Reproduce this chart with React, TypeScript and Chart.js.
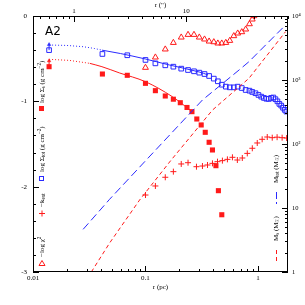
import React, { useEffect, useRef } from "react";
import { Chart, registerables } from "chart.js";
Chart.register(...registerables);

// ---------- data (radius in pc) ----------
const totR = [0.0139, 0.0414, 0.0689, 0.1, 0.1225, 0.15, 0.177, 0.208, 0.239, 0.27, 0.301, 0.335, 0.368, 0.405, 0.44, 0.477, 0.518, 0.562, 0.61, 0.661, 0.718, 0.778, 0.84, 0.89, 0.95, 1.01, 1.07, 1.13, 1.19, 1.25, 1.31, 1.37, 1.43, 1.49, 1.55, 1.61, 1.67, 1.73, 1.79];
const totLogSigma = [-0.4, -0.445, -0.46, -0.515, -0.555, -0.578, -0.594, -0.617, -0.633, -0.648, -0.664, -0.68, -0.703, -0.734, -0.765, -0.805, -0.828, -0.836, -0.836, -0.828, -0.844, -0.867, -0.875, -0.89, -0.905, -0.925, -0.945, -0.96, -0.97, -0.972, -0.96, -0.955, -0.975, -1.0, -1.03, -1.05, -1.075, -1.1, -1.12];

const sR = [0.0139, 0.0414, 0.0689, 0.1, 0.1225, 0.15, 0.177, 0.204, 0.234, 0.259, 0.286, 0.313, 0.34, 0.368, 0.394, 0.423, 0.445, 0.477];
const sLogSigma = [-0.594, -0.68, -0.695, -0.789, -0.875, -0.9375, -0.975, -1.016, -1.072, -1.121, -1.207, -1.277, -1.363, -1.48, -1.57, -1.754, -2.047, -2.329];

const chiR = [0.1, 0.1225, 0.15, 0.177, 0.208, 0.239, 0.27, 0.301, 0.335, 0.368, 0.405, 0.44, 0.477, 0.518, 0.562, 0.61, 0.661, 0.718, 0.778, 0.84, 0.89, 0.92];
const chiNegLog = [-0.605, -0.484, -0.39, -0.313, -0.25, -0.219, -0.219, -0.25, -0.273, -0.297, -0.305, -0.32, -0.32, -0.313, -0.289, -0.234, -0.203, -0.1875, -0.156, -0.094, -0.039, 0.0];

const kR = [0.1, 0.1225, 0.15, 0.177, 0.208, 0.239, 0.284, 0.321, 0.356, 0.394, 0.437, 0.483, 0.535, 0.593, 0.656, 0.726, 0.804, 0.891, 0.986, 1.09, 1.21, 1.34, 1.48, 1.64, 1.8];
const kNeg = [-2.098, -1.992, -1.89, -1.824, -1.734, -1.719, -1.766, -1.758, -1.746, -1.727, -1.707, -1.695, -1.68, -1.656, -1.6875, -1.664, -1.61, -1.55, -1.488, -1.445, -1.418, -1.426, -1.42, -1.426, -1.43];

const totModelR = [0.041, 0.06, 0.1, 0.163, 0.3, 0.36];
const totModel = [-0.4, -0.44, -0.504, -0.574, -0.656, -0.69];
const totInnerR = [0.0139, 0.02, 0.028, 0.035, 0.041];
const totInner = [-0.34, -0.345, -0.36, -0.38, -0.4];

const sModelR = [0.032, 0.041, 0.059, 0.1, 0.173, 0.26];
const sModel = [-0.555, -0.594, -0.668, -0.77, -0.945, -1.121];
const sInnerR = [0.0139, 0.021, 0.032];
const sInner = [-0.508, -0.52, -0.555];

const limitR = [0.0139, 0.0139];
const totLimit = [-0.4, -0.335];
const sLimit = [-0.594, -0.525];

const mTotR = [0.0279, 0.048, 0.1014, 0.321, 0.679, 0.832, 1.76];
const mTot = [4.64, 13.7, 56, 487, 1432, 1932, 7230];
const mSR = [0.033, 0.048, 0.0886, 0.169, 0.394, 0.832, 1.76];
const mS = [1.0, 2.84, 13.3, 56, 339, 1063, 5690];

// ---------- ticks ----------
const xTicks = [0.01, 0.02, 0.03, 0.04, 0.05, 0.06, 0.07, 0.08, 0.09, 0.1, 0.2, 0.3, 0.4, 0.5, 0.6, 0.7, 0.8, 0.9, 1];
const xMajor = [0.01, 0.1, 1];
const xLabels = ["0.01", "0.1", "1"];
const topTicks = [0.5, 0.6, 0.7, 0.8, 0.9, 1, 2, 3, 4, 5, 6, 7, 8, 9, 10, 20, 30, 40, 50, 60, 70, 80];
const topMajor = [1, 10];
const topLabels = ["1", "10"];
const yTicks = [-3, -2.8, -2.6, -2.4, -2.2, -2, -1.8, -1.6, -1.4, -1.2, -1, -0.8, -0.6, -0.4, -0.2, 0];
const yMajor = [-3, -2, -1, 0];
const yLabels = ["-3", "-2", "-1", "0"];
const y2Ticks = [1, 2, 3, 4, 5, 6, 7, 8, 9, 10, 20, 30, 40, 50, 60, 70, 80, 90, 100, 200, 300, 400, 500, 600, 700, 800, 900, 1000, 2000, 3000, 4000, 5000, 6000, 7000, 8000, 9000, 10000];
const y2Major = [1, 10, 100, 1000, 10000];
const y2Labels = ["1", "10", "10²", "10³", "10⁴"];

const PC_PER_ARCSEC = 0.0231;
const X_MIN = 0.01;
const X_MAX = 1.85;

const BLUE = "#2a2aff";
const RED = "#ff1a1a";
const FONT = "'Liberation Serif', 'DejaVu Serif', serif";

const pts = (xs: number[], ys: number[]) => xs.map((x, i) => ({ x, y: ys[i] }));
const near = (a: number, b: number) => Math.abs(a - b) < 1e-6 * Math.max(1, Math.abs(b));
const labelOf = (v: number, majors: number[], labels: string[]) => {
  const i = majors.findIndex((m) => near(v, m));
  return i >= 0 ? labels[i] : "";
};

type Part = [string, number];
function drawRich(ctx: CanvasRenderingContext2D, parts: Part[], size: number) {
  let cx = 0;
  for (const [t, k] of parts) {
    const fs = k ? size * 0.72 : size;
    ctx.font = `${fs}px ${FONT}`;
    const dy = k === 1 ? size * 0.3 : k === 2 ? -size * 0.35 : 0;
    ctx.fillText(t, cx, dy);
    cx += ctx.measureText(t).width;
  }
}
function vLabel(ctx: CanvasRenderingContext2D, x: number, y: number, parts: Part[], size: number) {
  ctx.save();
  ctx.translate(x, y);
  ctx.rotate(-Math.PI / 2);
  ctx.textBaseline = "middle";
  ctx.textAlign = "left";
  ctx.fillStyle = "#000";
  drawRich(ctx, parts, size);
  ctx.restore();
}

const decor = {
  id: "decor",
  afterDraw(chart: any) {
    const { ctx, chartArea: a, scales } = chart;
    ctx.save();
    ctx.strokeStyle = "#000";
    ctx.lineWidth = 1;
    ctx.strokeRect(a.left + 0.5, a.top + 0.5, a.right - a.left - 1, a.bottom - a.top - 1);
    ctx.beginPath();
    for (const v of xTicks) {
      const p = Math.round(scales.x.getPixelForValue(v)) + 0.5;
      const L = xMajor.some((m) => near(v, m)) ? 6 : 3;
      ctx.moveTo(p, a.bottom);
      ctx.lineTo(p, a.bottom - L);
    }
    for (const v of topTicks) {
      const p = Math.round(scales.x2.getPixelForValue(v)) + 0.5;
      const L = topMajor.some((m) => near(v, m)) ? 6 : 3;
      ctx.moveTo(p, a.top);
      ctx.lineTo(p, a.top + L);
    }
    for (const v of yTicks) {
      const p = Math.round(scales.y.getPixelForValue(v)) + 0.5;
      const L = yMajor.some((m) => near(v, m)) ? 6 : 3;
      ctx.moveTo(a.left, p);
      ctx.lineTo(a.left + L, p);
    }
    for (const v of y2Ticks) {
      const p = Math.round(scales.y2.getPixelForValue(v)) + 0.5;
      const L = y2Major.some((m) => near(v, m)) ? 6 : 3;
      ctx.moveTo(a.right, p);
      ctx.lineTo(a.right - L, p);
    }
    ctx.stroke();

    // panel name
    ctx.fillStyle = "#000";
    ctx.font = `12px 'DejaVu Sans', sans-serif`;
    ctx.textBaseline = "alphabetic";
    ctx.textAlign = "left";
    ctx.fillText("A2", 45, 35);

    // legend markers (left column)
    ctx.fillStyle = RED;
    ctx.fillRect(39, 106, 5, 5);
    ctx.strokeStyle = BLUE;
    ctx.strokeRect(39.5, 176.5, 4, 4);
    ctx.strokeStyle = RED;
    ctx.beginPath();
    ctx.moveTo(39, 213.5); ctx.lineTo(45, 213.5);
    ctx.moveTo(42, 210.5); ctx.lineTo(42, 216.5);
    ctx.moveTo(42, 260.5); ctx.lineTo(45, 265.5); ctx.lineTo(39, 265.5); ctx.closePath();
    ctx.stroke();

    // legend lines (right column)
    ctx.setLineDash([7, 3]);
    ctx.strokeStyle = BLUE;
    ctx.beginPath(); ctx.moveTo(276.5, 192); ctx.lineTo(276.5, 204); ctx.stroke();
    ctx.setLineDash([4, 3]);
    ctx.strokeStyle = RED;
    ctx.beginPath(); ctx.moveTo(276.5, 250); ctx.lineTo(276.5, 264); ctx.stroke();
    ctx.setLineDash([]);

    const fs = 7;
    vLabel(ctx, 42, 103, [["log Σ", 0], ["s", 1], [" (g cm", 0], ["−2", 2], [")", 0]], fs);
    vLabel(ctx, 42, 172, [["log Σ", 0], ["tot", 1], [" (g cm", 0], ["−2", 2], [")", 0]], fs);
    vLabel(ctx, 42, 207, [["−k", 0], ["ext", 1]], fs);
    vLabel(ctx, 42, 257, [["−log χ", 0], ["2", 2]], fs);
    vLabel(ctx, 276, 183, [["M", 0], ["tot", 1], [" (M", 0], ["☉", 1], [")", 0]], fs);
    vLabel(ctx, 276, 241, [["M", 0], ["s", 1], [" (M", 0], ["☉", 1], [")", 0]], fs);
    ctx.restore();
  },
};

const tickFont = { family: FONT, size: 7 };

export default function App() {
  const ref = useRef<HTMLCanvasElement>(null);
  useEffect(() => {
    const common = { showLine: false, xAxisID: "x" };
    const chart = new Chart(ref.current as HTMLCanvasElement, {
      type: "scatter",
      data: {
        datasets: [
          { ...common, yAxisID: "y2", showLine: true, data: pts(mTotR, mTot), borderColor: BLUE, borderWidth: 1, borderDash: [8, 4], pointRadius: 0 },
          { ...common, yAxisID: "y2", showLine: true, data: pts(mSR, mS), borderColor: RED, borderWidth: 1, borderDash: [4, 3], pointRadius: 0 },
          { ...common, yAxisID: "y", showLine: true, data: pts(totInnerR, totInner), borderColor: BLUE, borderWidth: 1, borderDash: [1, 2], pointRadius: 0 },
          { ...common, yAxisID: "y", showLine: true, data: pts(totModelR, totModel), borderColor: BLUE, borderWidth: 1, pointRadius: 0, cubicInterpolationMode: "monotone" },
          { ...common, yAxisID: "y", showLine: true, data: pts(sInnerR, sInner), borderColor: RED, borderWidth: 1, borderDash: [1, 2], pointRadius: 0 },
          { ...common, yAxisID: "y", showLine: true, data: pts(sModelR, sModel), borderColor: RED, borderWidth: 1, pointRadius: 0, cubicInterpolationMode: "monotone" },
          { ...common, yAxisID: "y", showLine: true, data: pts(limitR, totLimit), borderColor: BLUE, backgroundColor: BLUE, borderWidth: 1, pointStyle: "triangle", pointRadius: [0, 2], pointBorderWidth: 0.5 },
          { ...common, yAxisID: "y", showLine: true, data: pts(limitR, sLimit), borderColor: RED, backgroundColor: RED, borderWidth: 1, pointStyle: "triangle", pointRadius: [0, 2], pointBorderWidth: 0.5 },
          { ...common, yAxisID: "y", data: pts(totR, totLogSigma), pointStyle: "rect", pointRadius: 3.3, pointBorderWidth: 1, borderColor: BLUE, backgroundColor: "rgba(0,0,0,0)" },
          { ...common, yAxisID: "y", data: pts(sR, sLogSigma), pointStyle: "rect", pointRadius: 3.6, pointBorderWidth: 0, borderColor: RED, backgroundColor: RED },
          { ...common, yAxisID: "y", data: pts(chiR, chiNegLog), pointStyle: "triangle", pointRadius: 3.4, pointBorderWidth: 1, borderColor: RED, backgroundColor: "rgba(0,0,0,0)" },
          { ...common, yAxisID: "y", data: pts(kR, kNeg), pointStyle: "cross", pointRadius: 3, pointBorderWidth: 1, borderColor: RED, backgroundColor: RED },
        ],
      },
      options: {
        animation: false,
        responsive: false,
        devicePixelRatio: 1,
        layout: { padding: 0 },
        plugins: { legend: { display: false }, tooltip: { enabled: false } },
        scales: {
          x: {
            type: "logarithmic", position: "bottom", min: X_MIN, max: X_MAX,
            afterBuildTicks: (s: any) => { s.ticks = xTicks.map((v) => ({ value: v })); },
            afterFit: (s: any) => { s.height = 33; },
            grid: { display: false, drawTicks: false }, border: { display: false },
            ticks: { autoSkip: false, maxRotation: 0, minRotation: 0, padding: 2, color: "#000", font: tickFont, callback: (v: any) => labelOf(Number(v), xMajor, xLabels) },
            title: { display: true, text: "r (pc)", color: "#000", font: tickFont, padding: { top: 0, bottom: 14 } },
          },
          x2: {
            type: "logarithmic", position: "top", min: X_MIN / PC_PER_ARCSEC, max: X_MAX / PC_PER_ARCSEC,
            afterBuildTicks: (s: any) => { s.ticks = topTicks.map((v) => ({ value: v })); },
            afterFit: (s: any) => { s.height = 16; },
            grid: { display: false, drawTicks: false }, border: { display: false },
            ticks: { autoSkip: false, maxRotation: 0, minRotation: 0, padding: 1, color: "#000", font: tickFont, callback: (v: any) => labelOf(Number(v), topMajor, topLabels) },
            title: { display: true, text: "r (\")", color: "#000", font: tickFont, padding: { top: 1, bottom: 0 } },
          },
          y: {
            type: "linear", position: "left", min: -3, max: 0,
            afterBuildTicks: (s: any) => { s.ticks = yTicks.map((v) => ({ value: v })); },
            afterFit: (s: any) => { s.width = 33; },
            grid: { display: false, drawTicks: false }, border: { display: false },
            ticks: { autoSkip: false, padding: 6, color: "#000", font: tickFont, callback: (v: any) => labelOf(Number(v), yMajor, yLabels) },
          },
          y2: {
            type: "logarithmic", position: "right", min: 1, max: 10000,
            afterBuildTicks: (s: any) => { s.ticks = y2Ticks.map((v) => ({ value: v })); },
            afterFit: (s: any) => { s.width = 17; },
            grid: { display: false, drawTicks: false }, border: { display: false },
            ticks: { autoSkip: false, padding: 4, color: "#000", font: { family: FONT, size: 6.5 }, callback: (v: any) => labelOf(Number(v), y2Major, y2Labels) },
          },
        },
      },
      plugins: [decor],
    } as any);
    return () => chart.destroy();
  }, []);
  return (
    <canvas
      ref={ref}
      width={305}
      height={305}
      style={{ position: "absolute", left: 0, top: 0, width: 305, height: 305, background: "#fff" }}
    />
  );
}
